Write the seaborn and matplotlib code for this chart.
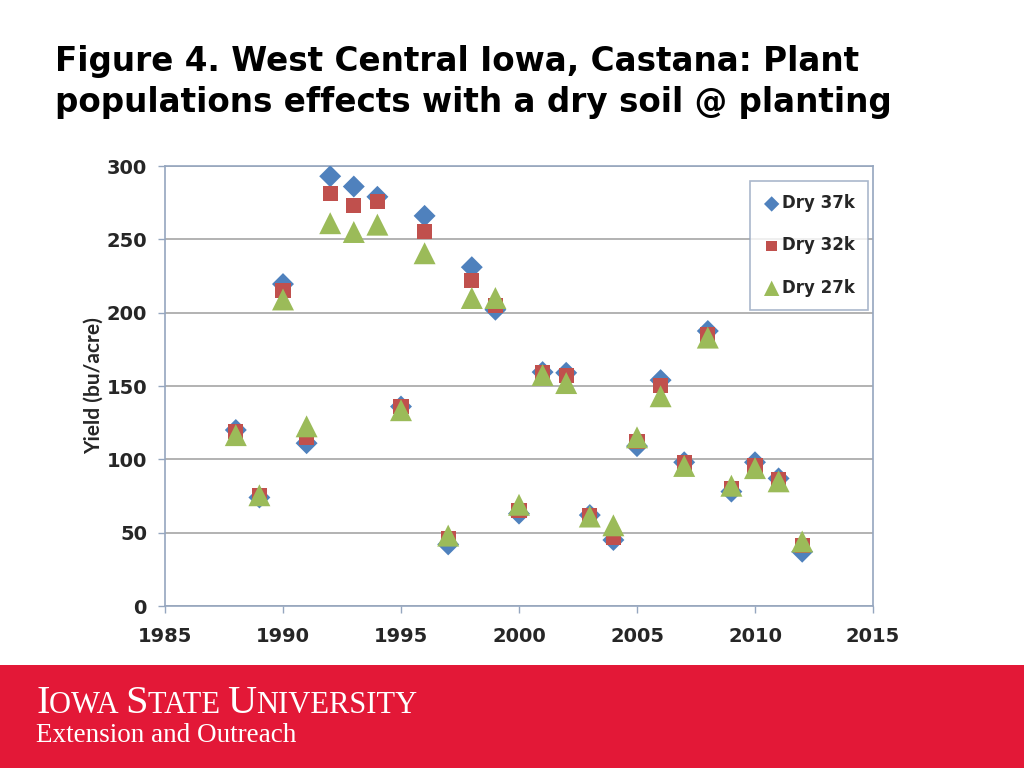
import numpy as np
import pandas as pd
import seaborn as sns
import matplotlib.pyplot as plt
from matplotlib.patches import Rectangle

years = list(range(1988, 2013))

dry_37k = [120, 74, 219.5, 111, 293, 286, 279, 136, 266, 42, 231, 202, 63,
           159.5, 159, 62, 45, 109, 154, 98, 187.5, 78, 98, 87, 37]
dry_32k = [119, 75, 215, 115, 281.5, 273, 276, 136, 255.5, 46, 222, 205, 65,
           159, 157, 62, 47, 112, 150.5, 97.5, 185, 80, 96, 86.5, 41.5]
dry_27k = [116.5, 75.5, 209, 122.5, 261, 255, 260, 133.5, 240.5, 48, 210, 210, 69,
           157.5, 152, 61, 55, 115, 143, 95.5, 183, 82, 94, 85, 44]

series_names = ["Dry 37k", "Dry 32k", "Dry 27k"]
x_ticks = [1985, 1990, 1995, 2000, 2005, 2010, 2015]
y_ticks = [0, 50, 100, 150, 200, 250, 300]

title_lines = ["Figure 4. West Central Iowa, Castana: Plant",
               "populations effects with a dry soil @ planting"]

df = pd.DataFrame({
    "Year": years * 3,
    "Yield": dry_37k + dry_32k + dry_27k,
    "Series": [series_names[0]] * len(years) + [series_names[1]] * len(years) + [series_names[2]] * len(years),
})

sns.set_theme(style="white")
plt.rcParams['font.family'] = ['DejaVu Sans']

fig = plt.figure(figsize=(10.24, 7.68), dpi=100)
ax = fig.add_axes([165 / 1024, 1 - 606 / 768, 708 / 1024, 440 / 768])

styles = {
    "Dry 37k": dict(marker="D", color="#4F81BD", s=125),
    "Dry 32k": dict(marker="s", color="#C0504D", s=117),
    "Dry 27k": dict(marker="^", color="#9BBB59", s=250),
}
for name in series_names:
    st = styles[name]
    sns.scatterplot(data=df[df["Series"] == name], x="Year", y="Yield", ax=ax,
                    marker=st["marker"], color=st["color"], s=st["s"],
                    edgecolor="none", linewidth=0, label=name, zorder=3)

ax.set_xlim(1985, 2015)
ax.set_ylim(0, 300)
ax.set_xticks(x_ticks)
ax.set_yticks(y_ticks)
ax.grid(axis="y", color="#A6A6A6", linewidth=1.2)
ax.grid(axis="x", visible=False)
for sp in ax.spines.values():
    sp.set_color("#95A6BF")
    sp.set_linewidth(1.2)
ax.tick_params(axis="both", direction="out", length=5, width=1, color="#95A6BF",
               labelsize=14, bottom=True, left=True)
ax.tick_params(axis="x", pad=10)
ax.tick_params(axis="y", pad=8)
for lab in ax.get_xticklabels() + ax.get_yticklabels():
    lab.set_fontweight("bold")
ax.set_xlabel("")
ax.set_ylabel("Yield (bu/acre)", fontsize=15, fontweight="bold", family="Lato", labelpad=2)

leg = ax.legend(loc="upper left", bbox_to_anchor=(585 / 708, 1 - 15 / 440), borderaxespad=0,
                frameon=True, fancybox=False, borderpad=0.8, labelspacing=1.45, handletextpad=0.1,
                handlelength=1.0, prop={"size": 12, "weight": "bold"}, markerscale=0.7)
leg.get_frame().set_edgecolor("#95A6BF")
leg.get_frame().set_linewidth(1.2)

fig.text(55 / 1024, 1 - 71 / 768, title_lines[0], ha="left", va="baseline", fontsize=23.5,
         fontweight="bold", color="black")
fig.text(55 / 1024, 1 - 112 / 768, title_lines[1], ha="left", va="baseline", fontsize=23.5,
         fontweight="bold", color="black")

# footer band
fig.patches.append(Rectangle((0, 0), 1, 103 / 768, transform=fig.transFigure,
                             facecolor="#E31837", edgecolor="none", zorder=0))

renderer = fig.canvas.get_renderer()
parts = [("I", 29), ("OWA ", 22), ("S", 29), ("TATE ", 22), ("U", 29), ("NIVERSITY", 22)]
x = 36
y = 1 - 713 / 768
for txt, size in parts:
    t = fig.text(x / 1024, y, txt, fontsize=size, color="white", family="Liberation Serif",
                 ha="left", va="baseline")
    bb = t.get_window_extent(renderer=renderer)
    x += bb.width
fig.text(36 / 1024, 1 - 742 / 768, "Extension and Outreach", fontsize=19.5, color="white",
         family="Liberation Serif", ha="left", va="baseline")

fig.savefig("out.png", dpi=100)
